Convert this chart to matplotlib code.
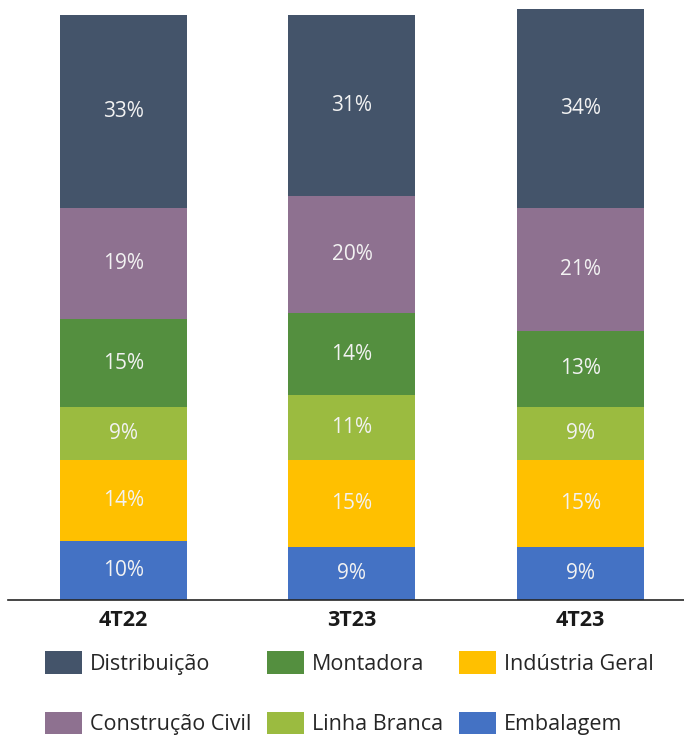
import matplotlib
matplotlib.use("Agg")
import matplotlib.pyplot as plt
import numpy as np

plt.rcParams['font.family'] = ['Open Sans', 'DejaVu Sans']

categories = ["4T22", "3T23", "4T23"]
segments = ["Embalagem", "Indústria Geral", "Linha Branca", "Montadora", "Construção Civil", "Distribuição"]
embalagem = [10, 9, 9]
industria_geral = [14, 15, 15]
linha_branca = [9, 11, 9]
montadora = [15, 14, 13]
construcao_civil = [19, 20, 21]
distribuicao = [33, 31, 34]

series = [embalagem, industria_geral, linha_branca, montadora, construcao_civil, distribuicao]
colors = ["#4472C4", "#FFC000", "#9BBB40", "#548F3F", "#8E7190", "#44546A"]

fig = plt.figure(figsize=(6.84, 7.38), dpi=100)
ax = fig.add_axes([8/684, 138/738, 676/684, 600/738])

x = np.arange(len(categories))
bottom = np.zeros(len(categories))
handles = {}
for name, vals, col in zip(segments, series, colors):
    vals = np.array(vals, dtype=float)
    bars = ax.bar(x, vals, width=0.556, bottom=bottom, color=col, label=name)
    handles[name] = bars
    for xi, b, v in zip(x, bottom, vals):
        ax.text(xi, b + v / 2, f"{int(v)}%", ha="center", va="center",
                color="#F2F2F2", fontsize=15)
    bottom += vals

ax.set_xlim(-0.505, 2.453)
ax.set_ylim(0, 102.56)
ax.set_xticks(x)
ax.set_xticklabels(categories, fontweight="bold", fontsize=15.5, color="#1a1a1a")
ax.tick_params(axis="x", length=0, pad=7)
ax.set_yticks([])
for s in ["top", "right", "left"]:
    ax.spines[s].set_visible(False)
ax.spines["bottom"].set_color("#262626")
ax.spines["bottom"].set_linewidth(1.2)

order = ["Distribuição", "Construção Civil", "Montadora", "Linha Branca", "Indústria Geral", "Embalagem"]
fs = 15.5
leg = fig.legend([handles[n] for n in order], order, ncol=3,
                 loc="upper left", bbox_to_anchor=(45/684, 1 - 651/738),
                 frameon=False, fontsize=fs, handlelength=1.7, handleheight=1.25,
                 labelspacing=1.72, columnspacing=0.72, handletextpad=0.4,
                 borderaxespad=0, borderpad=0, labelcolor="#262626")

fig.savefig("out.png", dpi=100)
